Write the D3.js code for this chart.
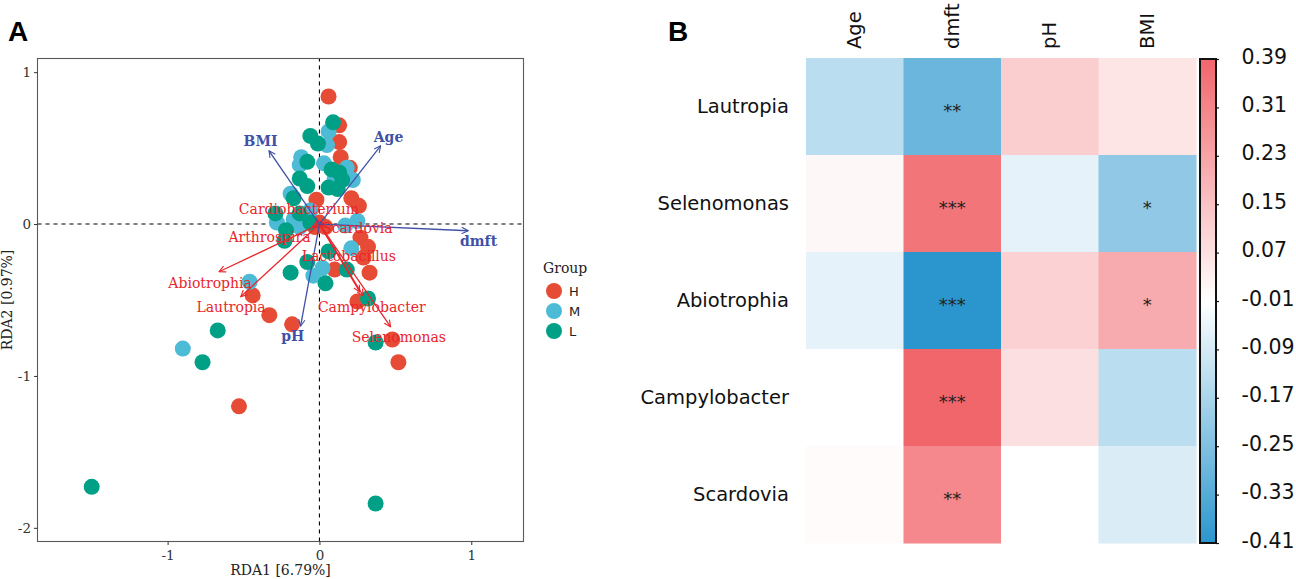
<!DOCTYPE html>
<html>
<head>
<meta charset="utf-8">
<script src="https://cdn.jsdelivr.net/npm/d3@7"></script>
<style>
  body { margin: 0; background: #fff; }
  svg { display: block; }
</style>
</head>
<body>
<svg id="chart" width="1296" height="579"></svg>
<script>
// ---------- panel A data (RDA biplot) ----------
var groups = ["H", "M", "L"];
var groupColors = ["#E64B35", "#4DBBD5", "#00A087"];

var ptsH = [
  [0.06, 0.84], [0.13, 0.65], [0.13, 0.54], [0.14, 0.44], [0.20, 0.37], [0.21, 0.17],
  [0.26, 0.12], [-0.02, 0.16], [-0.03, -0.02], [0.04, -0.02], [0.27, -0.09], [0.32, -0.15],
  [0.29, -0.22], [0.33, -0.32], [0.10, -0.30], [0.25, -0.51], [0.48, -0.76], [0.52, -0.91],
  [-0.18, -0.66], [-0.33, -0.60], [-0.44, -0.47], [-0.53, -1.20], [0.00, 0.01]
];
var ptsM = [
  [0.06, 0.61], [0.05, 0.52], [-0.12, 0.44], [0.03, 0.40], [0.18, 0.37], [0.22, 0.29],
  [-0.19, 0.20], [-0.28, 0.01], [-0.17, 0.03], [-0.13, -0.02], [0.17, -0.01], [0.25, 0.02],
  [0.21, -0.16], [0.02, -0.29], [-0.04, -0.34], [-0.46, -0.38], [-0.90, -0.82], [-0.13, 0.39],
  [0.10, 0.30], [-0.06, 0.09]
];
var ptsL = [
  [0.09, 0.67], [-0.06, 0.58], [-0.01, 0.53], [-0.08, 0.41], [0.08, 0.36], [0.13, 0.34],
  [-0.13, 0.30], [-0.08, 0.25], [0.06, 0.24], [0.12, 0.23], [0.15, 0.29], [-0.17, 0.17],
  [-0.29, 0.07], [-0.22, -0.04], [-0.23, -0.11], [-0.06, 0.01], [-0.13, 0.07], [0.06, -0.18],
  [0.18, -0.30], [-0.08, -0.25], [0.04, -0.39], [-0.19, -0.32], [0.32, -0.49], [0.37, -0.78],
  [-0.67, -0.70], [-0.77, -0.91], [-1.50, -1.73], [0.37, -1.84]
];

// environmental factor arrows: tip and label position
var envNames = ["Age", "dmft", "pH", "BMI"];
var envTips = [[0.403, 0.515], [0.979, -0.044], [-0.124, -0.671], [-0.332, 0.482]];
var envLabels = [[0.455, 0.570], [1.048, -0.109], [-0.176, -0.737], [-0.388, 0.546]];

// species arrows
var sppNames = ["Lautropia", "Selenomonas", "Abiotrophia", "Campylobacter", "Scardovia",
  "Cardiobacterium", "Arthrospira", "Lactobacillus"];
var sppTips = [[-0.518, -0.478], [0.468, -0.676], [-0.661, -0.314], [0.288, -0.472],
  [0.04, -0.01], [-0.02, 0.03], [-0.05, -0.02], [0.266, -0.447]];
var sppLabels = [[-0.582, -0.544], [0.523, -0.745], [-0.720, -0.386], [0.345, -0.544],
  [0.250, -0.028], [-0.135, 0.099], [-0.329, -0.086], [0.194, -0.211]];

var xTicksA = [-1, 0, 1];
var yTicksA = [-2, -1, 0, 1];

// ---------- panel B data (correlation heatmap) ----------
var rowNames = ["Lautropia", "Selenomonas", "Abiotrophia", "Campylobacter", "Scardovia"];
var colNames = ["Age", "dmft", "pH", "BMI"];
var corrAge = [-0.14, 0.01, -0.06, -0.01, 0.00];
var corrDmft = [-0.29, 0.35, -0.41, 0.39, 0.30];
var corrPH = [0.12, -0.06, 0.11, 0.07, -0.01];
var corrBMI = [0.06, -0.22, 0.21, -0.14, -0.08];
var sigAge = ["", "", "", "", ""];
var sigDmft = ["**", "***", "***", "***", "**"];
var sigPH = ["", "", "", "", ""];
var sigBMI = ["", "*", "*", "", ""];
var cbTicks = [0.39, 0.31, 0.23, 0.15, 0.07, -0.01, -0.09, -0.17, -0.25, -0.33, -0.41];

var svg = d3.select("#chart");
svg.append("rect").attr("width", 1296).attr("height", 579).attr("fill", "#fff");

var serif = "'DejaVu Serif', serif";
var sans = "'DejaVu Sans', sans-serif";
var bold = "'Liberation Sans', Arial, sans-serif";

// plain hyphen minus, like the reference
function hyphen(s) { return String(s).replace("\u2212", "-"); }

// ================= panel A =================
var x = d3.scaleLinear().domain([-1.857, 1.344]).range([37.5, 523.5]);
var y = d3.scaleLinear().domain([-2.09, 1.09]).range([541.5, 58.5]);

var gA = svg.append("g");

// markers for arrows
var defs = svg.append("defs");
function addMarker(id, color) {
  defs.append("marker")
    .attr("id", id)
    .attr("viewBox", "0 0 10 10")
    .attr("refX", 9).attr("refY", 5)
    .attr("markerWidth", 8).attr("markerHeight", 8)
    .attr("markerUnits", "userSpaceOnUse")
    .attr("orient", "auto")
    .append("path")
    .attr("d", "M1,1 L9,5 L1,9")
    .attr("fill", "none")
    .attr("stroke", color)
    .attr("stroke-width", 1.4);
}
addMarker("arrBlue", "#4150a6");
addMarker("arrRed", "#e8262b");

// dashed zero lines
gA.append("line")
  .attr("x1", x(0)).attr("x2", x(0))
  .attr("y1", y.range()[0]).attr("y2", y.range()[1])
  .attr("stroke", "#000").attr("stroke-width", 1.1).attr("stroke-dasharray", "4,4");
gA.append("line")
  .attr("x1", x.range()[0]).attr("x2", x.range()[1])
  .attr("y1", y(0)).attr("y2", y(0))
  .attr("stroke", "#000").attr("stroke-width", 1.1).attr("stroke-dasharray", "4,4");

// points
[ptsH, ptsM, ptsL].forEach(function(pts, gi) {
  gA.selectAll(".pt" + gi)
    .data(pts)
    .enter().append("circle")
    .attr("cx", function(d) { return x(d[0]); })
    .attr("cy", function(d) { return y(d[1]); })
    .attr("r", 8)
    .attr("fill", groupColors[gi]);
});

// species arrows (red)
gA.selectAll(".sppArrow")
  .data(sppTips)
  .enter().append("line")
  .attr("x1", x(0)).attr("y1", y(0))
  .attr("x2", function(d) { return x(d[0]); })
  .attr("y2", function(d) { return y(d[1]); })
  .attr("stroke", "#e8262b").attr("stroke-width", 1.3)
  .attr("marker-end", "url(#arrRed)");

// env arrows (blue)
gA.selectAll(".envArrow")
  .data(envTips)
  .enter().append("line")
  .attr("x1", x(0)).attr("y1", y(0))
  .attr("x2", function(d) { return x(d[0]); })
  .attr("y2", function(d) { return y(d[1]); })
  .attr("stroke", "#4150a6").attr("stroke-width", 1.3)
  .attr("marker-end", "url(#arrBlue)");

gA.selectAll(".sppLabel")
  .data(sppLabels)
  .enter().append("text")
  .attr("x", function(d) { return x(d[0]); })
  .attr("y", function(d) { return y(d[1]); })
  .attr("text-anchor", "middle")
  .attr("dominant-baseline", "central")
  .attr("font-family", serif).attr("font-size", 14)
  .attr("fill", "#e8262b")
  .text(function(d, i) { return sppNames[i]; });

gA.selectAll(".envLabel")
  .data(envLabels)
  .enter().append("text")
  .attr("x", function(d) { return x(d[0]); })
  .attr("y", function(d) { return y(d[1]); })
  .attr("text-anchor", "middle")
  .attr("dominant-baseline", "central")
  .attr("font-family", serif).attr("font-size", 14).attr("font-weight", "bold")
  .attr("fill", "#4150a6")
  .text(function(d, i) { return envNames[i]; });

// panel border
gA.append("rect")
  .attr("x", x.range()[0]).attr("y", y.range()[1])
  .attr("width", x.range()[1] - x.range()[0])
  .attr("height", y.range()[0] - y.range()[1])
  .attr("fill", "none").attr("stroke", "#595959").attr("stroke-width", 1.1);

// axes
var xAxis = gA.append("g")
  .attr("transform", "translate(0," + y.range()[0] + ")")
  .call(d3.axisBottom(x).tickValues(xTicksA).tickSize(3.5));
var yAxis = gA.append("g")
  .attr("transform", "translate(" + x.range()[0] + ",0)")
  .call(d3.axisLeft(y).tickValues(yTicksA).tickSize(3.5));
[xAxis, yAxis].forEach(function(ax) {
  ax.select(".domain").remove();
  ax.selectAll(".tick line").attr("stroke", "#333");
  ax.selectAll(".tick text")
    .attr("font-family", serif).attr("font-size", 13.5).attr("fill", "#333")
    .text(function(d) { return hyphen(d); });
});
xAxis.selectAll(".tick text").attr("dy", "0.9em");

gA.append("text")
  .attr("x", (x.range()[0] + x.range()[1]) / 2).attr("y", 575)
  .attr("text-anchor", "middle")
  .attr("font-family", serif).attr("font-size", 14).attr("fill", "#222")
  .text("RDA1 [6.79%]");
gA.append("text")
  .attr("transform", "translate(12," + (y.range()[0] + y.range()[1]) / 2 + ") rotate(-90)")
  .attr("text-anchor", "middle")
  .attr("font-family", serif).attr("font-size", 14).attr("fill", "#222")
  .text("RDA2 [0.97%]");

// legend
var leg = gA.append("g").attr("transform", "translate(543,0)");
leg.append("text")
  .attr("x", 0).attr("y", 273)
  .attr("font-family", serif).attr("font-size", 14).attr("fill", "#222")
  .text("Group");
groups.forEach(function(g, i) {
  leg.append("circle")
    .attr("cx", 11).attr("cy", 291 + i * 20).attr("r", 8)
    .attr("fill", groupColors[i]);
  leg.append("text")
    .attr("x", 26).attr("y", 291 + i * 20)
    .attr("dominant-baseline", "central")
    .attr("font-family", sans).attr("font-size", 13).attr("fill", "#222")
    .text(g);
});

svg.append("text")
  .attr("x", 8).attr("y", 41)
  .attr("font-family", bold).attr("font-weight", "bold").attr("font-size", 28)
  .text("A");

// ================= panel B =================
var corrCols = [corrAge, corrDmft, corrPH, corrBMI];
var sigCols = [sigAge, sigDmft, sigPH, sigBMI];

var cells = [];
rowNames.forEach(function(r, ri) {
  colNames.forEach(function(c, ci) {
    cells.push({ row: r, col: c, v: corrCols[ci][ri], sig: sigCols[ci][ri] });
  });
});

var xb = d3.scaleBand().domain(colNames).range([806, 1196]);
var yb = d3.scaleBand().domain(rowNames).range([58, 543]);
var color = d3.scaleLinear()
  .domain([-0.41, -0.01, 0.39])
  .range(["#2b96cd", "#ffffff", "#f1666b"]);

var gB = svg.append("g");
gB.selectAll(".cell")
  .data(cells)
  .enter().append("rect")
  .attr("x", function(d) { return xb(d.col); })
  .attr("y", function(d) { return yb(d.row); })
  .attr("width", xb.bandwidth() + 0.5)
  .attr("height", yb.bandwidth() + 0.5)
  .attr("fill", function(d) { return color(d.v); });

gB.selectAll(".sig")
  .data(cells.filter(function(d) { return d.sig; }))
  .enter().append("text")
  .attr("x", function(d) { return xb(d.col) + xb.bandwidth() / 2; })
  .attr("y", function(d) { return yb(d.row) + yb.bandwidth() / 2 + 10; })
  .attr("text-anchor", "middle")
  .attr("font-family", sans).attr("font-size", 18).attr("fill", "#222")
  .text(function(d) { return d.sig; });

gB.selectAll(".rowLabel")
  .data(rowNames)
  .enter().append("text")
  .attr("x", 789)
  .attr("y", function(d) { return yb(d) + yb.bandwidth() / 2; })
  .attr("text-anchor", "end")
  .attr("dominant-baseline", "central")
  .attr("font-family", sans).attr("font-size", 19.5).attr("fill", "#111")
  .text(function(d) { return d; });

gB.selectAll(".colLabel")
  .data(colNames)
  .enter().append("text")
  .attr("transform", function(d) {
    return "translate(" + (xb(d) + xb.bandwidth() / 2) + ",49) rotate(-90)";
  })
  .attr("text-anchor", "start")
  .attr("dominant-baseline", "central")
  .attr("font-family", sans).attr("font-size", 19.5).attr("fill", "#111")
  .text(function(d) { return d; });

// colour bar
var cbY = d3.scaleLinear().domain([-0.41, 0.39]).range([543, 59]);
var grad = defs.append("linearGradient")
  .attr("id", "cbGrad")
  .attr("x1", 0).attr("x2", 0).attr("y1", 1).attr("y2", 0);
d3.range(0, 1.0001, 0.05).forEach(function(t) {
  var v = -0.41 + t * 0.8;
  grad.append("stop").attr("offset", t).attr("stop-color", color(v));
});
gB.append("rect")
  .attr("x", 1200).attr("y", cbY(0.39))
  .attr("width", 16).attr("height", cbY(-0.41) - cbY(0.39))
  .attr("fill", "url(#cbGrad)")
  .attr("stroke", "#111").attr("stroke-width", 2);
var cbAxis = gB.append("g")
  .attr("transform", "translate(1216,0)")
  .call(d3.axisRight(cbY).tickValues(cbTicks).tickSize(3));
cbAxis.select(".domain").remove();
cbAxis.selectAll(".tick line").attr("stroke", "#111").attr("stroke-width", 1.2);
cbAxis.selectAll(".tick text")
  .attr("x", 25.5)
  .attr("dy", "0.2em")
  .attr("font-family", sans).attr("font-size", 20.5).attr("fill", "#111")
  .text(function(d) { return hyphen(d3.format(".2f")(d)); });

svg.append("text")
  .attr("x", 668).attr("y", 41)
  .attr("font-family", bold).attr("font-weight", "bold").attr("font-size", 28)
  .text("B");
</script>
</body>
</html>
